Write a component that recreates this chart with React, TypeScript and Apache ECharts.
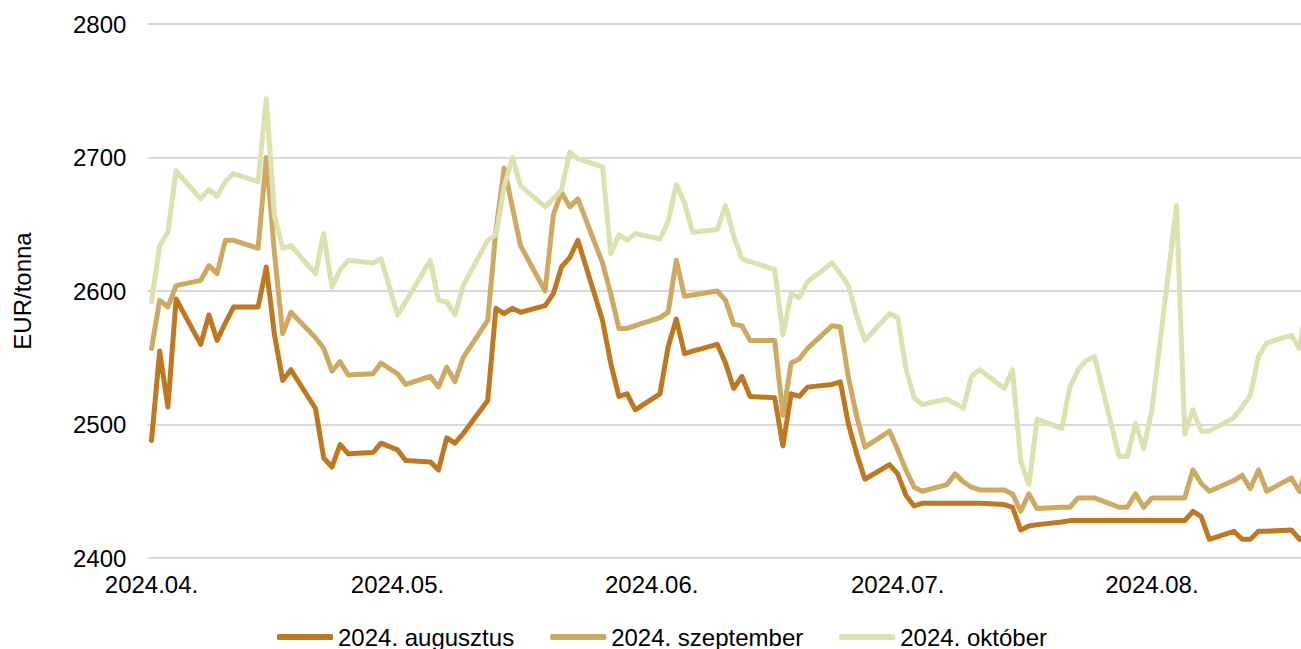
import React, { useEffect, useRef } from "react";
import * as echarts from "echarts";

const dates = [
  "2024-04-02","2024-04-03","2024-04-04","2024-04-05","2024-04-08","2024-04-09","2024-04-10","2024-04-11","2024-04-12","2024-04-15",
  "2024-04-16","2024-04-17","2024-04-18","2024-04-19","2024-04-22","2024-04-23","2024-04-24","2024-04-25","2024-04-26","2024-04-29",
  "2024-04-30","2024-05-02","2024-05-03","2024-05-06","2024-05-07","2024-05-08","2024-05-09","2024-05-10","2024-05-13","2024-05-14",
  "2024-05-15","2024-05-16","2024-05-17","2024-05-20","2024-05-21","2024-05-22","2024-05-23","2024-05-24","2024-05-27","2024-05-28",
  "2024-05-29","2024-05-30","2024-05-31","2024-06-03","2024-06-04","2024-06-05","2024-06-06","2024-06-07","2024-06-10","2024-06-11",
  "2024-06-12","2024-06-13","2024-06-14","2024-06-17","2024-06-18","2024-06-19","2024-06-20","2024-06-21","2024-06-24","2024-06-25",
  "2024-06-26","2024-06-27","2024-06-28","2024-07-01","2024-07-02","2024-07-03","2024-07-04","2024-07-05","2024-07-08","2024-07-09",
  "2024-07-10","2024-07-11","2024-07-12","2024-07-15","2024-07-16","2024-07-17","2024-07-18","2024-07-19","2024-07-22","2024-07-23",
  "2024-07-24","2024-07-25","2024-07-26","2024-07-29","2024-07-30","2024-07-31","2024-08-01","2024-08-02","2024-08-05","2024-08-06",
  "2024-08-07","2024-08-08","2024-08-09","2024-08-12","2024-08-13","2024-08-14","2024-08-15","2024-08-16","2024-08-19","2024-08-20",
  "2024-08-21",
];

const augusztus = [
  2488, 2555, 2513, 2594, 2560, 2582, 2563, 2576, 2588, 2588,
  2618, 2567, 2533, 2541, 2512, 2475, 2468, 2485, 2478, 2479,
  2486, 2481, 2473, 2472, 2466, 2490, 2486, 2493, 2518, 2587,
  2583, 2587, 2584, 2589, 2598, 2618, 2625, 2638, 2578, 2546,
  2521, 2523, 2511, 2523, 2558, 2579, 2553, 2555, 2560, 2546,
  2527, 2536, 2521, 2520, 2484, 2523, 2521, 2528, 2530, 2532,
  2500, 2478, 2459, 2470, 2463, 2447, 2439, 2441, 2441, 2441,
  2441, 2441, 2441, 2440, 2438, 2421, 2424, 2425, 2427, 2428,
  2428, 2428, 2428, 2428, 2428, 2428, 2428, 2428, 2428, 2428,
  2435, 2431, 2414, 2420, 2414, 2414, 2420, 2420, 2421, 2414,
  2418,
];

const szeptember = [
  2557, 2593, 2588, 2604, 2608, 2619, 2613, 2638, 2638, 2632,
  2700, 2628, 2568, 2584, 2565, 2557, 2540, 2547, 2537, 2538,
  2546, 2538, 2530, 2536, 2528, 2543, 2532, 2550, 2578, 2645,
  2692, 2663, 2634, 2600, 2657, 2674, 2663, 2669, 2621, 2598,
  2572, 2572, 2574, 2580, 2584, 2623, 2596, 2597, 2600, 2593,
  2575, 2574, 2563, 2563, 2507, 2546, 2549, 2557, 2574, 2573,
  2535, 2506, 2483, 2495, 2481, 2466, 2453, 2450, 2455, 2463,
  2457, 2453, 2451, 2451, 2448, 2435, 2448, 2437, 2438, 2438,
  2445, 2445, 2445, 2438, 2438, 2448, 2438, 2445, 2445, 2445,
  2466, 2456, 2450, 2458, 2462, 2452, 2466, 2450, 2460, 2450,
  2472,
];

const oktober = [
  2592, 2634, 2644, 2690, 2669, 2676, 2671, 2682, 2688, 2682,
  2744, 2656, 2632, 2634, 2613, 2643, 2603, 2616, 2623, 2621,
  2624, 2582, 2592, 2623, 2593, 2592, 2582, 2604, 2638, 2642,
  2678, 2700, 2679, 2663, 2669, 2676, 2704, 2699, 2693, 2628,
  2642, 2638, 2643, 2639, 2652, 2680, 2666, 2644, 2646, 2664,
  2641, 2624, 2622, 2616, 2567, 2598, 2595, 2607, 2621, 2613,
  2604, 2581, 2563, 2583, 2580, 2542, 2520, 2515, 2519, 2516,
  2512, 2536, 2541, 2527, 2541, 2473, 2455, 2504, 2497, 2528,
  2541, 2548, 2551, 2476, 2476, 2501, 2482, 2511, 2664, 2493,
  2511, 2495, 2495, 2505, 2513, 2522, 2551, 2561, 2567, 2557,
  2595,
];

const seriesNames = ["2024. augusztus", "2024. szeptember", "2024. október"];
const seriesColors = ["#BE7821", "#CDA961", "#DDE0AF"];
const tickDates = ["2024-04-02", "2024-05-02", "2024-06-02", "2024-07-02", "2024-08-02"];
const yTicks = { min: 2400, max: 2800, interval: 100 };

const DAY = 86400000;
const ts = (s: string) => new Date(s + "T00:00:00Z").getTime();
const pad = (n: number) => (n < 10 ? "0" + n : "" + n);

export default function App() {
  const ref = useRef<HTMLDivElement>(null);
  useEffect(() => {
    if (!ref.current) return;
    const chart = echarts.init(ref.current, undefined, { renderer: "svg" });
    const font = "'Liberation Sans', Arial, sans-serif";
    const xMin = ts(dates[0]) - 0.5 * DAY;
    const xMax = xMin + 140.68 * DAY;
    const all = [augusztus, szeptember, oktober];
    chart.setOption({
      animation: false,
      backgroundColor: "#ffffff",
      textStyle: { fontFamily: font },
      grid: { left: 147.4, right: 0, top: 24, bottom: 91 },
      legend: {
        left: 277,
        top: 625,
        padding: 0,
        itemGap: 36,
        itemWidth: 56,
        itemHeight: 6,
        icon: "roundRect",
        textStyle: { fontFamily: font, fontSize: 24, color: "#000" },
        data: seriesNames,
      },
      xAxis: {
        type: "value",
        min: xMin,
        max: xMax,
        scale: true,
        axisLine: { show: false },
        axisTick: { show: false },
        splitLine: { show: false },
        axisLabel: {
          customValues: tickDates.map(ts),
          fontFamily: font,
          fontSize: 24,
          color: "#000",
          margin: 14,
          formatter: (v: number) => {
            const d = new Date(v);
            return d.getUTCFullYear() + "." + pad(d.getUTCMonth() + 1) + ".";
          },
        },
      },
      yAxis: {
        type: "value",
        min: yTicks.min,
        max: yTicks.max,
        interval: yTicks.interval,
        name: "EUR/tonna",
        nameLocation: "middle",
        nameRotate: 90,
        nameGap: 113,
        nameTextStyle: { fontFamily: font, fontSize: 24, color: "#000" },
        axisLine: { show: false },
        axisTick: { show: false },
        axisLabel: {
          fontFamily: font,
          fontSize: 24,
          color: "#000",
          margin: 21,
          formatter: (v: number) => String(v),
        },
        splitLine: { lineStyle: { color: "#D9D9D9", width: 2 } },
      },
      series: seriesNames.map((name, i) => ({
        name,
        type: "line",
        showSymbol: false,
        symbol: "none",
        color: seriesColors[i],
        lineStyle: { width: 5, color: seriesColors[i], cap: "round", join: "round" },
        data: dates.map((d, j) => [ts(d), all[i][j]]),
      })),
    });
    return () => chart.dispose();
  }, []);
  return (
    <div
      ref={ref}
      style={{ position: "fixed", left: 0, top: 0, width: 1301, height: 649, background: "#fff" }}
    />
  );
}
